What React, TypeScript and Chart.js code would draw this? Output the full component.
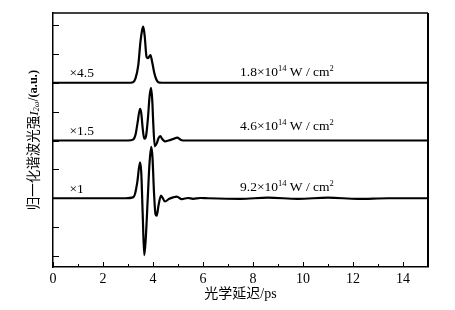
import React, { useEffect, useRef } from "react";
import { Chart, registerables } from "chart.js";

Chart.register(...registerables);

// ---- data ----
const xTickValues = [0, 2, 4, 6, 8, 10, 12, 14];
const xMinorTicks = [1, 3, 5, 7, 9, 11, 13];
const yTickValues = [0, 1, 2, 3, 4, 5, 6, 7, 8];

// top trace (x4.5, 1.8e14 W/cm2), baseline 6
const topX = [0, 3.0, 3.2, 3.3, 3.41, 3.5, 3.56, 3.61, 3.67, 3.74, 3.8, 3.9, 3.97, 4.05, 4.13, 4.21, 4.35, 15];
const topY = [6, 6, 6.02, 6.15, 6.6, 7.43, 7.8, 7.94, 7.6, 6.9, 6.85, 6.96, 6.7, 6.35, 6.12, 6.02, 6, 6];

// middle trace (x1.5, 4.6e14 W/cm2), baseline 4
const midX = [0, 3.0, 3.2, 3.3, 3.38, 3.48, 3.53, 3.59, 3.65, 3.72, 3.8, 3.86, 3.92, 3.97, 4.01, 4.07, 4.15, 4.22, 4.29, 4.37, 4.48, 4.62, 4.8, 4.97, 5.12, 5.3, 15];
const midY = [4, 4, 4.03, 4.2, 4.6, 5.1, 4.95, 4.4, 4.06, 4.15, 4.8, 5.5, 5.82, 5.4, 4.6, 3.8, 3.9, 4.08, 4.15, 4.05, 3.97, 4.0, 4.05, 4.1, 4.02, 4.0, 4];

// bottom trace (x1, 9.2e14 W/cm2), baseline 2
const botX = [0, 2.9, 3.2, 3.28, 3.37, 3.48, 3.53, 3.59, 3.65, 3.71, 3.79, 3.86, 3.93, 3.98, 4.04, 4.1, 4.15, 4.22, 4.32, 4.48, 4.65, 4.8, 4.95, 5.15, 5.4, 5.6, 5.9, 6.2, 7.5, 8.6, 9.8, 11, 12.2, 13.4, 15];
const botY = [2, 2, 2.03, 2.15, 2.55, 3.24, 2.9, 1.4, 0.03, 0.6, 2.0, 3.2, 3.78, 3.4, 2.2, 1.45, 1.4, 1.75, 2.09, 1.89, 1.98, 2.03, 2.06, 1.97, 2.01, 1.98, 2.01, 2.0, 1.98, 2.02, 1.98, 2.02, 1.98, 2.0, 2];

const scaleLabels = ["×4.5", "×1.5", "×1"];
const intensityMantissa = ["1.8", "4.6", "9.2"];
const intensityExponent = "14";

// annotation anchor positions in data coordinates
const scaleLabelX = 0.66;
const scaleLabelY = [6.33, 4.32, 2.3];
const intensityX = 7.48;
const intensityY = [6.34, 4.47, 2.36];

const xTitle = "光学延迟/ps";

const toPts = (xs: number[], ys: number[]) => xs.map((x, i) => ({ x, y: ys[i] }));

const SERIF = "'Liberation Serif', 'DejaVu Serif', 'Noto Sans CJK SC', serif";

type Seg = { t: string; font: string; dy?: number };

function drawSegs(ctx: CanvasRenderingContext2D, segs: Seg[], x: number, y: number, align: "left" | "center") {
  let total = 0;
  for (const s of segs) {
    ctx.font = s.font;
    total += ctx.measureText(s.t).width;
  }
  let cx = align === "center" ? x - total / 2 : x;
  ctx.textAlign = "left";
  ctx.textBaseline = "middle";
  for (const s of segs) {
    ctx.font = s.font;
    ctx.fillText(s.t, cx, y + (s.dy || 0));
    cx += ctx.measureText(s.t).width;
  }
}

const decorPlugin = {
  id: "decor",
  afterDraw(chart: any) {
    const ctx: CanvasRenderingContext2D = chart.ctx;
    const xs = chart.scales.x;
    const ys = chart.scales.y;
    const a = chart.chartArea;
    ctx.save();
    ctx.strokeStyle = "#000";
    ctx.fillStyle = "#000";
    // frame
    ctx.lineWidth = 1.5;
    ctx.beginPath();
    ctx.moveTo(a.left, a.top);
    ctx.lineTo(a.right, a.top);
    ctx.stroke();
    ctx.lineWidth = 2;
    ctx.beginPath();
    ctx.moveTo(a.right, a.top);
    ctx.lineTo(a.right, a.bottom);
    ctx.stroke();
    // inward ticks
    ctx.lineWidth = 1;
    ctx.beginPath();
    for (const v of xTickValues) {
      const px = Math.round(xs.getPixelForValue(v)) + 0.5;
      ctx.moveTo(px, a.bottom);
      ctx.lineTo(px, a.bottom - 5);
    }
    for (const v of xMinorTicks) {
      const px = Math.round(xs.getPixelForValue(v)) + 0.5;
      ctx.moveTo(px, a.bottom);
      ctx.lineTo(px, a.bottom - 3);
    }
    for (const v of yTickValues) {
      const py = Math.round(ys.getPixelForValue(v)) + 0.5;
      ctx.moveTo(a.left, py);
      ctx.lineTo(a.left + 6, py);
    }
    ctx.stroke();

    // scale labels
    scaleLabels.forEach((t, i) => {
      drawSegs(ctx, [{ t, font: `13.5px ${SERIF}` }], xs.getPixelForValue(scaleLabelX), ys.getPixelForValue(scaleLabelY[i]), "left");
    });
    // intensity labels
    intensityMantissa.forEach((m, i) => {
      drawSegs(
        ctx,
        [
          { t: `${m}×10`, font: `13.5px ${SERIF}` },
          { t: intensityExponent, font: `8.5px ${SERIF}`, dy: -4 },
          { t: " W / cm", font: `13.5px ${SERIF}` },
          { t: "2", font: `8.5px ${SERIF}`, dy: -4 },
        ],
        xs.getPixelForValue(intensityX),
        ys.getPixelForValue(intensityY[i]),
        "left"
      );
    });

    // x title
    drawSegs(ctx, [{ t: xTitle, font: `14px ${SERIF}` }], (a.left + a.right) / 2, 294, "center");

    // y title (rotated)
    ctx.save();
    ctx.translate(34, 140);
    ctx.rotate(-Math.PI / 2);
    drawSegs(
      ctx,
      [
        { t: "归一化谐波光强", font: `13.5px ${SERIF}` },
        { t: "I", font: `italic 13.5px ${SERIF}` },
        { t: "2ω", font: `italic 8px ${SERIF}`, dy: 3 },
        { t: "/", font: `14px ${SERIF}` },
        { t: "(a.u.)", font: `bold 12.5px ${SERIF}` },
      ],
      0,
      0,
      "center"
    );
    ctx.restore();
    ctx.restore();
  },
};

export default function App() {
  const ref = useRef<HTMLCanvasElement>(null);
  useEffect(() => {
    if (!ref.current) return;
    const ds = (xs: number[], ys: number[]) => ({
      data: toPts(xs, ys),
      borderColor: "#000",
      borderWidth: 2.2,
      pointRadius: 0,
      fill: false,
      cubicInterpolationMode: "monotone" as const,
    });
    const chart = new Chart(ref.current, {
      type: "line",
      data: {
        datasets: [ds(topX, topY), ds(midX, midY), ds(botX, botY)],
      },
      options: {
        animation: false,
        responsive: false,
        devicePixelRatio: 1,
        layout: { padding: { top: 13, right: 27, left: 0, bottom: 0 } },
        plugins: { legend: { display: false }, tooltip: { enabled: false } },
        scales: {
          x: {
            type: "linear",
            min: 0,
            max: 15,
            afterFit: (s: any) => {
              s.height = 43;
            },
            afterBuildTicks: (s: any) => {
              s.ticks = xTickValues.map((v) => ({ value: v }));
            },
            ticks: {
              color: "#000",
              font: { family: SERIF, size: 14 },
              padding: 4,
              maxRotation: 0,
              autoSkip: false,
            },
            grid: { display: false, drawTicks: false },
            border: { display: true, color: "#000", width: 1.5 },
          },
          y: {
            type: "linear",
            min: -0.38,
            max: 8.415,
            afterFit: (s: any) => {
              s.width = 53;
            },
            ticks: { display: false },
            grid: { display: false, drawTicks: false },
            border: { display: true, color: "#000", width: 1.5 },
          },
        },
      },
      plugins: [decorPlugin],
    });
    return () => chart.destroy();
  }, []);
  return (
    <div style={{ position: "fixed", left: 0, top: 0, width: 455, height: 310, background: "#fff" }}>
      <canvas ref={ref} width={455} height={310} />
    </div>
  );
}
